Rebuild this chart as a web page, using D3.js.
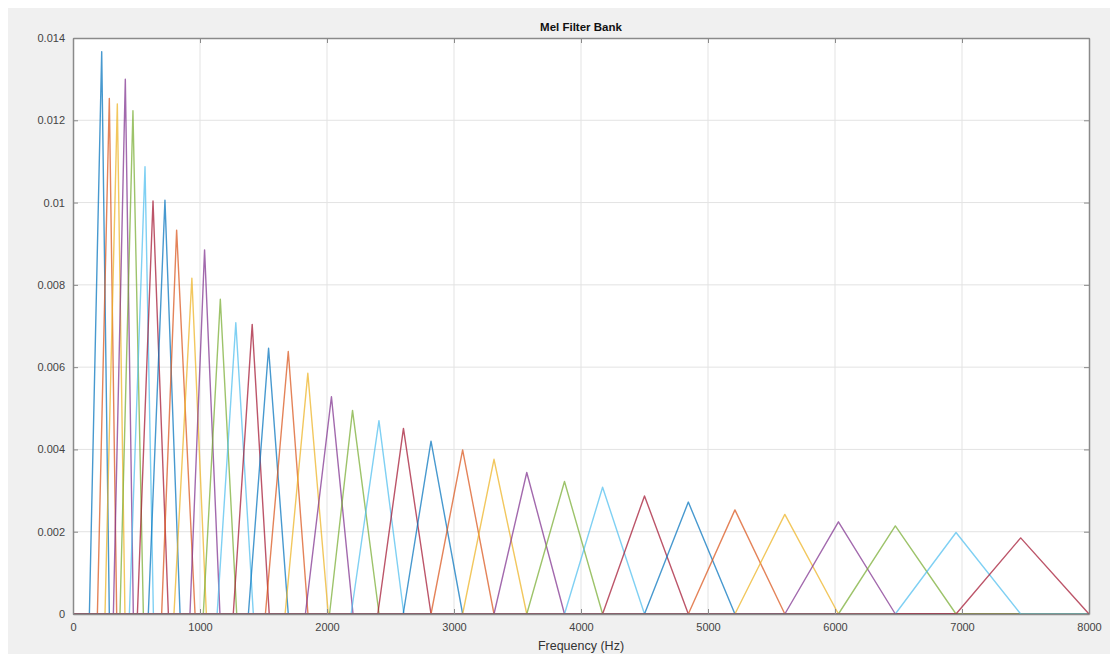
<!DOCTYPE html>
<html>
<head>
<meta charset="utf-8">
<script src="https://cdn.jsdelivr.net/npm/d3@7"></script>
<style>
  body { margin: 0; background: #fff; }
  svg { display: block; font-family: Helvetica, Arial, "Liberation Sans", sans-serif; }
</style>
</head>
<body>
<svg id="chart"></svg>
<script>
// filter centre frequencies (Hz), peak heights and base edges
var centers = [226, 286, 349, 412, 472, 567, 630, 724, 816, 936, 1036, 1160, 1282, 1411, 1540,
    1695, 1849, 2035, 2201, 2409, 2602, 2819, 3068, 3315, 3573, 3870, 4170, 4500, 4845, 5212,
    5605, 6027, 6475, 6953, 7462];
var peaks = [0.01367, 0.01253, 0.0124, 0.0130, 0.01223, 0.01087, 0.01004, 0.01006, 0.00933, 0.00816,
    0.00885, 0.00765, 0.00708, 0.00704, 0.00646, 0.00638, 0.00585, 0.00528, 0.00495, 0.0047,
    0.00451, 0.0042, 0.00399, 0.00376, 0.00344, 0.00322, 0.00308, 0.00287, 0.00272, 0.00253,
    0.00242, 0.00224, 0.00214, 0.00198, 0.00185];
var starts = [129, 192, 252, 318, 370, 444, 507, 593, 698, 795, 921, 1026, 1135, 1262, 1381,
    1515, 1670, 1830, 2020, 2190, 2400, 2600, 2819, 3068, 3315, 3573, 3870, 4170, 4500, 4845,
    5212, 5605, 6027, 6475, 6953];
var ends = [286, 344, 409, 475, 554, 633, 751, 843, 961, 1050, 1157, 1289, 1420, 1545, 1695,
    1850, 2010, 2205, 2410, 2605, 2819, 3068, 3315, 3573, 3870, 4170, 4500, 4845, 5212, 5605,
    6027, 6475, 6953, 7462, 8000];
var xTicks = [0, 1000, 2000, 3000, 4000, 5000, 6000, 7000, 8000];
var yTicks = [0, 0.002, 0.004, 0.006, 0.008, 0.01, 0.012, 0.014];
var colorCycle = ["#0072BD", "#D95319", "#EDB120", "#7E2F8E", "#77AC30", "#4DBEEE", "#A2142F"];

var W = 1110, H = 654;
var margin = { top: 38, right: 21, bottom: 40, left: 73 };
var width = W - margin.left - margin.right;
var height = H - margin.top - margin.bottom;

var svg = d3.select("#chart").attr("width", W).attr("height", H);

// grey figure background
svg.append("rect").attr("x", 8).attr("y", 8).attr("width", W - 8).attr("height", H - 8).attr("fill", "#f0f0f0");

var x = d3.scaleLinear().domain([0, 8000]).range([0, width]);
var y = d3.scaleLinear().domain([0, 0.014]).range([height, 0]);

var g = svg.append("g").attr("transform", "translate(" + margin.left + "," + margin.top + ")");

g.append("rect").attr("width", width).attr("height", height).attr("fill", "#fff");

// grid
g.append("g").selectAll("line").data(xTicks.slice(1, -1)).enter().append("line")
    .attr("x1", function(d) { return x(d); }).attr("x2", function(d) { return x(d); })
    .attr("y1", 0).attr("y2", height)
    .attr("stroke", "#e3e3e3").attr("stroke-width", 1);
g.append("g").selectAll("line").data(yTicks.slice(1, -1)).enter().append("line")
    .attr("y1", function(d) { return y(d); }).attr("y2", function(d) { return y(d); })
    .attr("x1", 0).attr("x2", width)
    .attr("stroke", "#e3e3e3").attr("stroke-width", 1);

// each filter is a full-range line, zero outside its triangle
var filters = centers.map(function(c, i) {
    var pts = [[0, 0], [starts[i], 0], [c, peaks[i]], [ends[i], 0]];
    if (ends[i] < 8000) pts.push([8000, 0]);
    return pts;
});

var line = d3.line()
    .x(function(d) { return x(d[0]); })
    .y(function(d) { return y(d[1]); });

g.append("g").selectAll("path").data(filters).enter().append("path")
    .attr("d", line)
    .attr("fill", "none")
    .attr("stroke", function(d, i) { return colorCycle[i % colorCycle.length]; })
    .attr("stroke-opacity", 0.72)
    .attr("stroke-width", 1.4)
    .attr("stroke-linejoin", "round");

// axes (box with inward ticks on all sides)
var axisColor = "#8a8a8a";
var xAxis = g.append("g").attr("transform", "translate(0," + height + ")")
    .call(d3.axisBottom(x).tickValues(xTicks).tickSizeInner(-5).tickSizeOuter(0).tickPadding(9).tickFormat(d3.format("d")));
var xAxisTop = g.append("g")
    .call(d3.axisTop(x).tickValues(xTicks).tickSizeInner(-5).tickSizeOuter(0).tickFormat(""));
var yAxis = g.append("g")
    .call(d3.axisLeft(y).tickValues(yTicks).tickSizeInner(-5).tickSizeOuter(0).tickPadding(8)
        .tickFormat(function(d) { return d === 0 ? "0" : d3.format(".3~f")(d); }));
var yAxisRight = g.append("g").attr("transform", "translate(" + width + ",0)")
    .call(d3.axisRight(y).tickValues(yTicks).tickSizeInner(-5).tickSizeOuter(0).tickFormat(""));

[xAxis, xAxisTop, yAxis, yAxisRight].forEach(function(a) {
    a.select(".domain").attr("stroke", axisColor).attr("stroke-width", 1.5);
    a.selectAll(".tick line").attr("stroke", axisColor);
    a.selectAll(".tick text").attr("fill", "#444").attr("font-size", 11)
        .attr("font-family", "Helvetica, Arial, 'Liberation Sans', sans-serif");
});

// title and axis label
svg.append("text")
    .attr("x", margin.left + width / 2).attr("y", 31)
    .attr("text-anchor", "middle").attr("font-size", 11.5).attr("font-weight", "bold")
    .attr("fill", "#111")
    .text("Mel Filter Bank");

svg.append("text")
    .attr("x", margin.left + width / 2).attr("y", 650)
    .attr("text-anchor", "middle").attr("font-size", 12.5)
    .attr("fill", "#333")
    .text("Frequency (Hz)");
</script>
</body>
</html>
